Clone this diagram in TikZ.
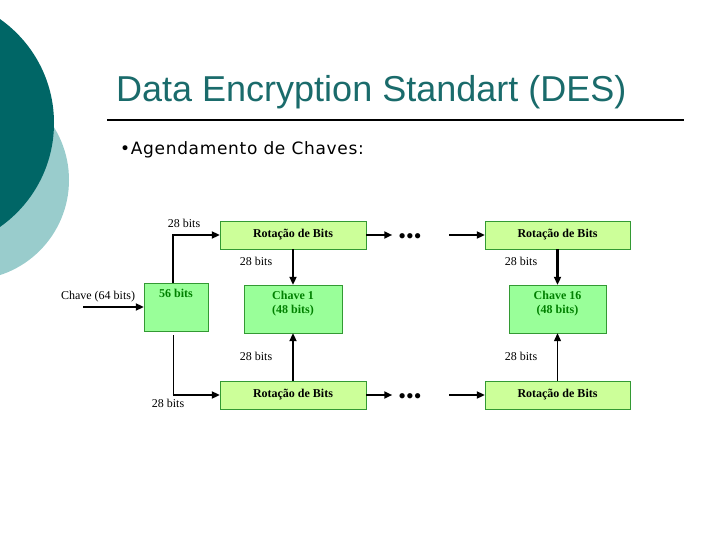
\documentclass[tikz,border=0pt]{standalone}
\usepackage{fontspec}
\setmainfont{Liberation Serif}
\newfontfamily\titlefont{Liberation Sans}
\newfontfamily\bulletfont[LetterSpace=4]{DejaVu Sans}
\usetikzlibrary{arrows.meta}
\definecolor{darkteal}{RGB}{0,102,102}
\definecolor{lightteal}{RGB}{153,204,204}
\definecolor{titlecol}{RGB}{26,107,107}
\definecolor{keyfill}{RGB}{153,255,153}
\definecolor{rotfill}{RGB}{204,255,153}
\definecolor{boxline}{RGB}{51,153,51}
\definecolor{keytext}{RGB}{0,128,0}
\begin{document}
\begin{tikzpicture}[x=1pt,y=-1pt,
	rotbox/.style={draw=boxline, fill=rotfill, minimum width=146pt, minimum height=28pt, inner sep=0pt, font=\fontsize{12}{14}\selectfont\bfseries},
	keybox/.style={draw=boxline, fill=keyfill, minimum height=48pt, inner sep=0pt},
	keytxt/.style={anchor=north, yshift=-6pt, inner sep=0pt, align=center, text=keytext, font=\fontsize{12}{14}\selectfont\bfseries},
	lbl/.style={inner sep=0pt, font=\fontsize{12}{14}\selectfont},
	dotlbl/.style={inner sep=0pt, font=\fontsize{22}{22}\selectfont},
	arr/.style={-{Triangle[length=8pt,width=7pt]}, line width=2.2pt}]
	\useasboundingbox (0,0) rectangle (720,540);
	\clip (0,0) rectangle (720,540);
	%background circles
	\fill[lightteal] (-31,180) circle[radius=100pt];
	\fill[darkteal] (-73,123) circle[radius=127pt];
	%title
	\node[anchor=base west, inner sep=0pt, text=titlecol, font=\titlefont\fontsize{36}{40}\selectfont] (title) at (116,102) {Data Encryption Standart (DES)};
	\draw[line width=1.5pt] (107,120) -- (684,120);
	\node[anchor=base west, inner sep=0pt, font=\bulletfont\fontsize{17}{20}\selectfont] (agenda) at (120,155) {•Agendamento de Chaves:};
	%input key
	\node[keybox, minimum width=64pt, label={[keytxt]north:56 bits}] (k56) at (176,307) {};
	\coordinate (kin) at (83,307);
	\node[lbl] (kinlbl) at (98,297) {Chave (64 bits)};
	\draw[arr] (kin) -- (k56.west);
	%round 1
		% rotations
		\node[rotbox] (rot1t) at (293,235) {Rotação de Bits};
		\node[rotbox] (rot1b) at (293,395) {Rotação de Bits};
		% subkey
		\node[keybox, minimum width=98pt, label={[keytxt]north:Chave 1\\(48 bits)}] (ch1) at (293,309) {};
	%round 16
		% rotations
		\node[rotbox, minimum width=145pt] (rot2t) at (557.5,235) {Rotação de Bits};
		\node[rotbox, minimum width=145pt] (rot2b) at (557.5,395) {Rotação de Bits};
		% subkey
		\node[keybox, minimum width=97pt, label={[keytxt]north:Chave 16\\(48 bits)}] (ch16) at (557.5,309) {};
	% dots
		\node[dotlbl] (dots1) at (410,239) {•••};
		\node[dotlbl] (dots2) at (410,399) {•••};
		\coordinate (g1) at (449,235);
		\coordinate (g2) at (449,395);
	% halves
		\coordinate (split) at (173,395);
		\draw[arr] ([xshift=-3pt]k56.north) |- (rot1t.west);
		\draw[line width=1pt] ([xshift=-3pt,yshift=-4pt]k56.south) -- ([yshift=1pt]split);
		\draw[arr] ([xshift=-0.5pt]split) -- (rot1b.west);
		\node[lbl] (l1) at (184,223) {28 bits};
		\node[lbl] (l2) at (168,403) {28 bits};
	% rotation chain
		\draw[arr] (rot1t.east) -- ([xshift=-6pt]dots1.west|-rot1t.east);
		\draw[arr] (rot1b.east) -- ([xshift=-6pt]dots2.west|-rot1b.east);
		\draw[arr] (g1) -- (rot2t.west);
		\draw[arr] (g2) -- (rot2b.west);
	% into subkeys
		\draw[arr] (rot1t) -- (ch1);
		\draw[arr] (rot1b) -- (ch1);
		\draw[arr] (rot2t) -- (ch16);
		\draw[-{Triangle[length=8pt,width=7pt]}, line width=1.2pt] (rot2b) -- (ch16);
		\node[lbl] (l3) at (256,261) {28 bits};
		\node[lbl] (l4) at (256,356) {28 bits};
		\node[lbl] (l5) at (521,261) {28 bits};
		\node[lbl] (l6) at (521,356) {28 bits};
\end{tikzpicture}
\end{document}
